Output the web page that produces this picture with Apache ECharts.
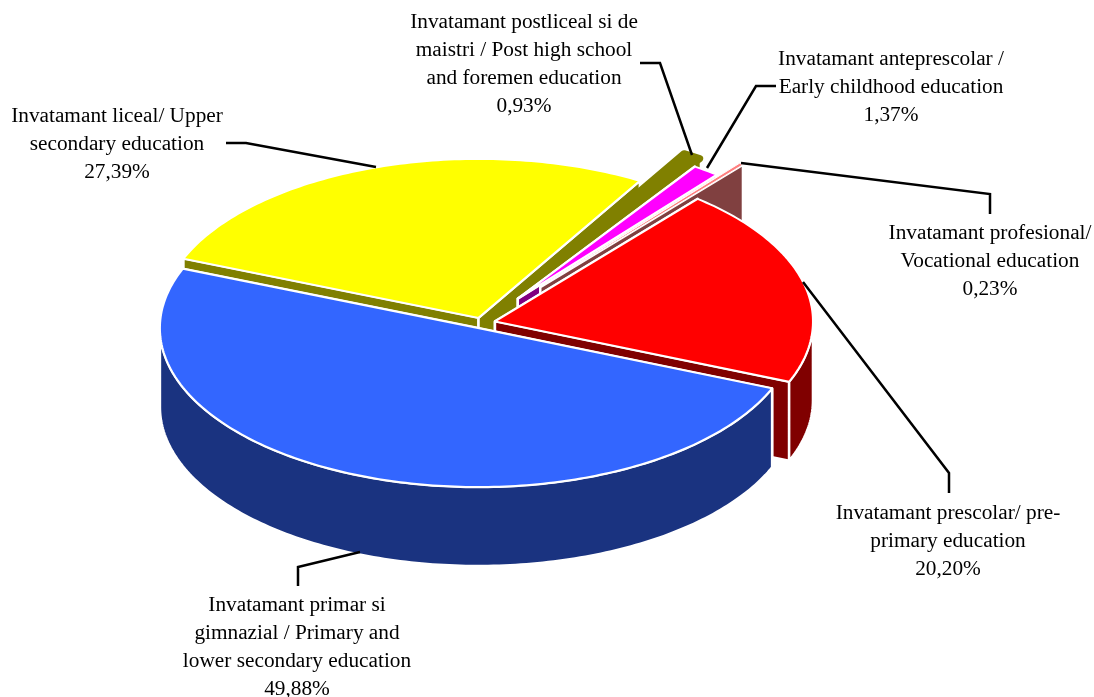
<!DOCTYPE html>
<html>
<head>
<meta charset="utf-8">
<title>Education levels</title>
<script src="https://cdn.jsdelivr.net/npm/echarts@6/dist/echarts.min.js"></script>
<style>
    html, body { margin: 0; padding: 0; background: #fff; }
    #chart { width: 1094px; height: 697px; }
</style>
</head>
<body>
<div id="chart"></div>
<script>
const categories = [
    "Invatamant prescolar/ pre-\nprimary education",
    "Invatamant primar si\ngimnazial / Primary and\nlower secondary education",
    "Invatamant liceal/ Upper\nsecondary education",
    "Invatamant postliceal si de\nmaistri / Post high school\nand foremen education",
    "Invatamant anteprescolar /\nEarly childhood education",
    "Invatamant profesional/\nVocational education",
];
const shares = [20.2, 49.88, 27.39, 0.93, 1.37, 0.23];

const topColors = ["#FF0000", "#3366FF", "#FFFF00", "#808000", "#FF00FF", "#FF8080"];
const sideColors = ["#800000", "#1A3380", "#808000", "#808000", "#800080", "#804040"];
const explode = [0.042, 0.034, 0.034, 0.24, 0.19, 0.29];
// painter order, back to front
const drawOrder = [4, 5, 0, 1, 2, 3];

// where the labels sit and how the leader lines run to them
const labelCenters = [[948, 499], [297, 591], [117, 102], [524, 8], [891, 45], [990, 219]];
const leaders = [
    [[803, 282], [949, 473], [949, 493]],
    [[360, 552], [298, 567], [298, 586]],
    [[226, 143], [246, 143], [376, 167]],
    [[640, 63], [660, 63], [692, 155]],
    [[776, 86], [756, 86], [707, 168]],
    [[741, 163], [990, 194], [990, 214]],
];

const CX = 482, CY = 323, RX = 318, RY = 159, DEPTH = 79;
const START_ANGLE = 309.6;

const total = shares.reduce((a, b) => a + b, 0);
const toAngle = (v) => echarts.number.linearMap(v, [0, total], [START_ANGLE, START_ANGLE + 360]);

function onRim(c, deg, drop) {
    const rad = deg * Math.PI / 180;
    return [c[0] + RX * Math.cos(rad), c[1] + RY * Math.sin(rad) + (drop || 0)];
}

function arc(c, from, to, drop) {
    const pts = [];
    const n = Math.max(2, Math.ceil(Math.abs(to - from)));
    for (let i = 0; i <= n; i++) {
        pts.push(onRim(c, from + (to - from) * i / n, drop));
    }
    return pts;
}

function renderSlice(params, api) {
    const i = params.dataIndex;
    let before = 0;
    for (let k = 0; k < i; k++) before += shares[k];
    const a0 = toAngle(before);
    const a1 = toAngle(before + api.value(0));
    const mid = (a0 + a1) / 2 * Math.PI / 180;
    const c = [
        CX + RX * explode[i] * Math.cos(mid),
        CY + RY * explode[i] * Math.sin(mid),
    ];
    const z = drawOrder[i] * 10;
    const olive = i === 3;
    const edge = olive ? null : "#fff";
    const children = [];

    const wall = (deg, z2) => {
        const tip = onRim(c, deg);
        children.push({
            type: "polygon",
            z2: z + z2,
            shape: { points: [c, tip, [tip[0], tip[1] + DEPTH], [c[0], c[1] + DEPTH]] },
            style: { fill: sideColors[i], stroke: edge, lineWidth: 2.5, lineJoin: "round" },
        });
    };
    wall(a0, 1);
    wall(a1, 2);

    // outer wall, only the part that faces the viewer
    [[0, 180], [360, 540]].forEach(([lo, hi]) => {
        const from = Math.max(a0, lo);
        const to = Math.min(a1, hi);
        if (to > from) {
            children.push({
                type: "polygon",
                z2: z + 3,
                shape: { points: arc(c, from, to, 0).concat(arc(c, to, from, DEPTH)) },
                style: { fill: sideColors[i], stroke: edge, lineWidth: 2.5, lineJoin: "round" },
            });
        }
    });

    children.push({
        type: "polygon",
        z2: z + 4,
        shape: { points: [c].concat(arc(c, a0, a1, 0)) },
        style: {
            fill: topColors[i],
            stroke: olive ? topColors[i] : "#fff",
            lineWidth: olive ? 7 : (i === 5 ? 1 : 2),
            lineJoin: "round",
        },
    });

    children.push({
        type: "polyline",
        z2: 200,
        shape: { points: leaders[i] },
        style: { fill: null, stroke: "#000", lineWidth: 2.5 },
    });
    children.push({
        type: "text",
        z2: 201,
        x: labelCenters[i][0],
        y: labelCenters[i][1],
        style: {
            text: categories[i] + "\n" + api.value(0).toFixed(2).replace(".", ",") + "%",
            fill: "#000",
            font: '21.3px "Liberation Serif"',
            lineHeight: 28,
            align: "center",
            verticalAlign: "top",
        },
    });
    return { type: "group", children: children };
}

const chart = echarts.init(document.getElementById("chart"));
chart.setOption({
    animation: false,
    backgroundColor: "#fff",
    series: [
        {
            type: "custom",
            coordinateSystem: "none",
            silent: true,
            renderItem: renderSlice,
            data: shares.map((v) => [v]),
        },
    ],
});
</script>
</body>
</html>
